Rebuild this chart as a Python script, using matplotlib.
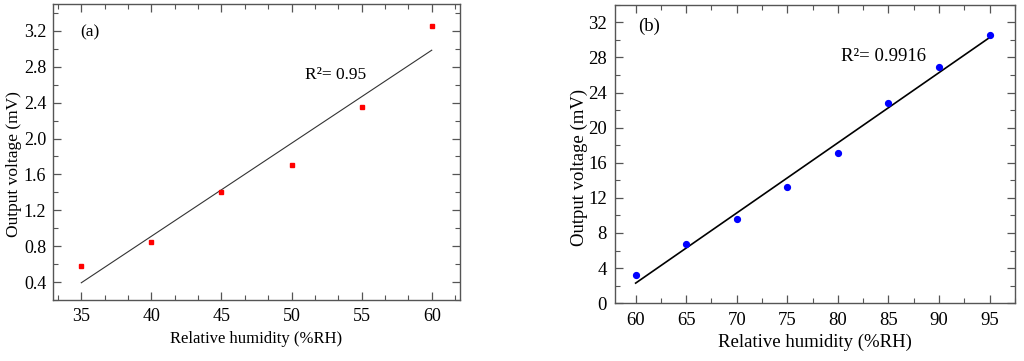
import numpy as np
import matplotlib
matplotlib.use("Agg")
import matplotlib.pyplot as plt
from matplotlib.ticker import MultipleLocator, AutoMinorLocator

plt.rcParams['font.family'] = ['Liberation Serif', 'DejaVu Serif']

# Panel (a) data
rh_a = [35, 40, 45, 50, 55, 60]
volt_a = [0.58, 0.85, 1.40, 1.70, 2.35, 3.25]
r2_a = "0.95"

# Panel (b) data
rh_b = [60, 65, 70, 75, 80, 85, 90, 95]
volt_b = [3.22, 6.78, 9.54, 13.29, 17.08, 22.83, 26.88, 30.56]
r2_b = "0.9916"

fig = plt.figure(figsize=(10.24, 3.61), dpi=100)
ax1 = fig.add_axes([0.052, 0.169, 0.397, 0.820])
ax2 = fig.add_axes([0.601, 0.160, 0.390, 0.827])


def style(ax, fs):
    for s in ax.spines.values():
        s.set_color('#555555')
        s.set_linewidth(1.0)
    ax.tick_params(which='both', direction='in', top=True, right=True,
                   colors='#555555', labelcolor='black', labelsize=fs)
    ax.tick_params(which='major', length=6, width=0.9, pad=6)
    ax.tick_params(which='minor', length=3.5, width=0.8)


# Panel (a)
x = np.array(rh_a, dtype=float)
y = np.array(volt_a)
k, b = np.polyfit(x, y, 1)
ax1.plot(x, k * x + b, color='#333333', lw=0.8)
ax1.plot(x, y, 's', color='red', ms=3.2, mec='red')
ax1.set_xlim(33, 62)
ax1.set_ylim(0.2, 3.5)
ax1.xaxis.set_major_locator(MultipleLocator(5))
ax1.xaxis.set_minor_locator(AutoMinorLocator(3))
ax1.yaxis.set_major_locator(MultipleLocator(0.4))
ax1.yaxis.set_minor_locator(AutoMinorLocator(2))
ax1.yaxis.set_major_formatter(matplotlib.ticker.FormatStrFormatter('%.1f'))
style(ax1, 13)
ax1.tick_params(axis='y', which='major', pad=5)
ax1.set_xlabel('Relative humidity (%RH)', fontsize=12, labelpad=4)
ax1.set_ylabel('Output voltage (mV)', fontsize=12.5)
ax1.yaxis.set_label_coords(-0.077, 0.46)
ax1.text(0.066, 0.905, '(a)', transform=ax1.transAxes, fontsize=12.5, va='center', ha='left')
ax1.text(0.619, 0.76, 'R²= ' + r2_a, transform=ax1.transAxes, fontsize=12.5, va='center', ha='left')

# Panel (b)
x = np.array(rh_b, dtype=float)
y = np.array(volt_b)
k, b = np.polyfit(x, y, 1)
ax2.plot(x, k * x + b, color='black', lw=1.2)
ax2.plot(x, y, 'o', color='blue', ms=4.2, mec='blue')
ax2.set_xlim(58, 97.5)
ax2.set_ylim(0, 34)
ax2.xaxis.set_major_locator(MultipleLocator(5))
ax2.xaxis.set_minor_locator(AutoMinorLocator(2))
ax2.yaxis.set_major_locator(MultipleLocator(4))
ax2.yaxis.set_minor_locator(AutoMinorLocator(2))
style(ax2, 13.5)
ax2.set_xlabel('Relative humidity (%RH)', fontsize=13.5, labelpad=4)
ax2.set_ylabel('Output voltage (mV)', fontsize=13.5)
ax2.yaxis.set_label_coords(-0.069, 0.456)
ax2.text(0.058, 0.929, '(b)', transform=ax2.transAxes, fontsize=13.5, va='center', ha='left')
ax2.text(0.566, 0.826, 'R²= ' + r2_b, transform=ax2.transAxes, fontsize=13.5, va='center', ha='left')

fig.savefig('out.png', dpi=100)
